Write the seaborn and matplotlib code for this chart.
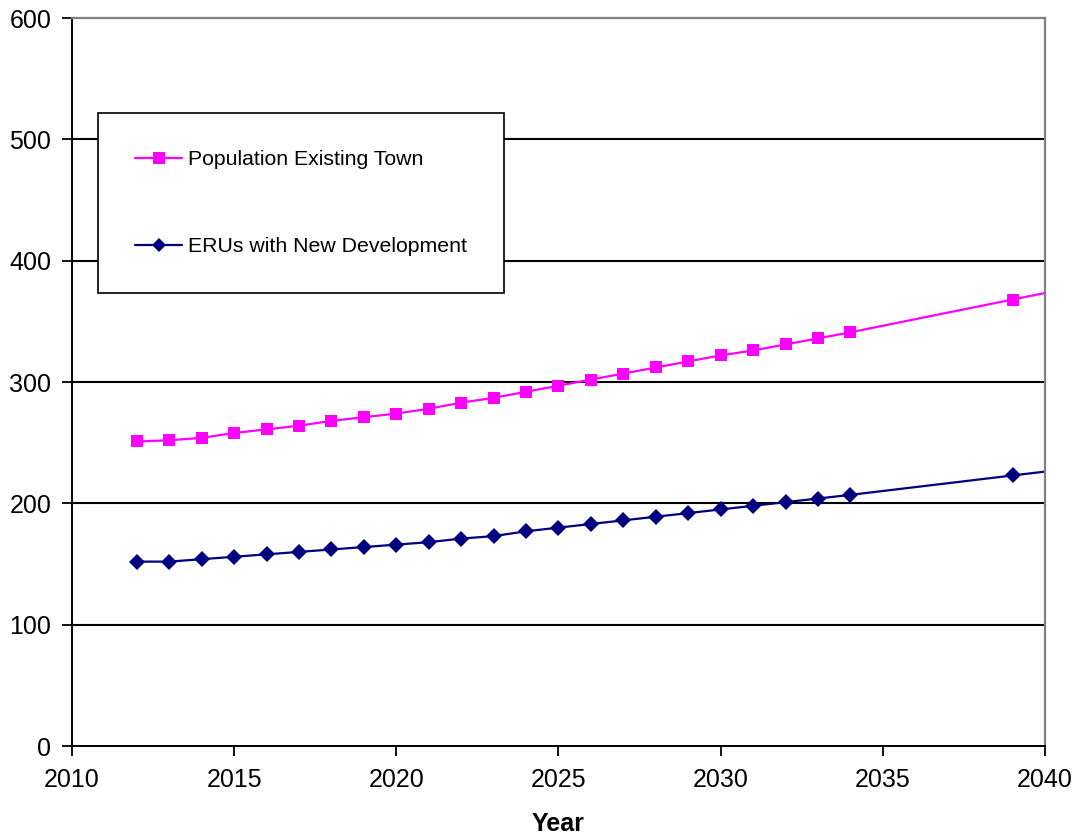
import matplotlib
matplotlib.use("Agg")
import matplotlib.pyplot as plt
from matplotlib.lines import Line2D
import seaborn as sns
import pandas as pd

# Projection years (the final point lies past the plotted range)
years = [2012, 2013, 2014, 2015, 2016, 2017, 2018, 2019, 2020, 2021, 2022,
         2023, 2024, 2025, 2026, 2027, 2028, 2029, 2030, 2031, 2032, 2033,
         2034, 2039, 2044]

population_existing_town = [251, 252, 254, 258, 261, 264, 268, 271, 274, 278,
                             283, 287, 292, 297, 302, 307, 312, 317, 322, 326,
                             331, 336, 341, 368, 395]

erus_new_development = [152, 152, 154, 156, 158, 160, 162, 164, 166, 168,
                        171, 173, 177, 180, 183, 186, 189, 192, 195, 198,
                        201, 204, 207, 223, 239]

series_names = ["Population Existing Town", "ERUs with New Development"]
series_colors = {"Population Existing Town": "#FF00FF",
                 "ERUs with New Development": "#000080"}
series_markers = {"Population Existing Town": "s",
                  "ERUs with New Development": "D"}

y_ticks = [0, 100, 200, 300, 400, 500, 600]
x_ticks = [2010, 2015, 2020, 2025, 2030, 2035, 2040]

df = pd.concat([
    pd.DataFrame({"Year": years, "Value": population_existing_town,
                  "Series": series_names[0]}),
    pd.DataFrame({"Year": years, "Value": erus_new_development,
                  "Series": series_names[1]}),
])

sns.set_theme(style="white")
plt.rcParams["font.family"] = ["Liberation Sans", "DejaVu Sans"]
plt.rcParams["text.color"] = "black"
plt.rcParams["axes.labelcolor"] = "black"

fig = plt.figure(figsize=(10.79, 8.39), dpi=100)
ax = fig.add_axes([0.0667, 0.1108, 0.9018, 0.8677])

for name in series_names:
    sub = df[df["Series"] == name]
    sns.lineplot(data=sub, x="Year", y="Value", ax=ax, color=series_colors[name],
                 marker=series_markers[name],
                 markersize=8.8 if name == series_names[0] else 7.8,
                 markeredgewidth=0, linewidth=1.6, legend=False, sort=True)

ax.set_xlim(2010, 2040)
ax.set_ylim(0, 600)
ax.set_xticks(x_ticks)
ax.set_yticks(y_ticks)
ax.tick_params(axis="both", which="major", direction="out", length=7, width=1.3,
               color="black", labelsize=18, left=True, bottom=True,
               labelcolor="black")
ax.tick_params(axis="x", pad=9)
ax.tick_params(axis="y", pad=8)

for y in y_ticks[1:-1]:
    ax.axhline(y, color="black", linewidth=1.5, zorder=0.5)

for side in ("left", "bottom"):
    ax.spines[side].set_color("black")
    ax.spines[side].set_linewidth(1.4)
for side in ("top", "right"):
    ax.spines[side].set_color("#808080")
    ax.spines[side].set_linewidth(1.6)

ax.set_xlabel("Year", fontsize=18, fontweight="bold", labelpad=14)
ax.set_ylabel("")

handles = [
    Line2D([], [], color=series_colors[n], marker=series_markers[n],
           markersize=8 if n == series_names[0] else 7, markeredgewidth=0,
           linewidth=1.6)
    for n in series_names
]
leg = ax.legend(handles, series_names, loc="upper left",
                bbox_to_anchor=(0.0267, 0.8695), fontsize=15.3,
                frameon=True, fancybox=False, edgecolor="black",
                borderpad=1.75, labelspacing=3.2, handlelength=2.2,
                handletextpad=0.3, borderaxespad=0)
leg.get_frame().set_linewidth(1.2)
leg.get_frame().set_facecolor("white")
leg.get_frame().set_alpha(1)
for t in leg.get_texts():
    t.set_color("black")

fig.savefig("out.png", dpi=100, facecolor="white")
